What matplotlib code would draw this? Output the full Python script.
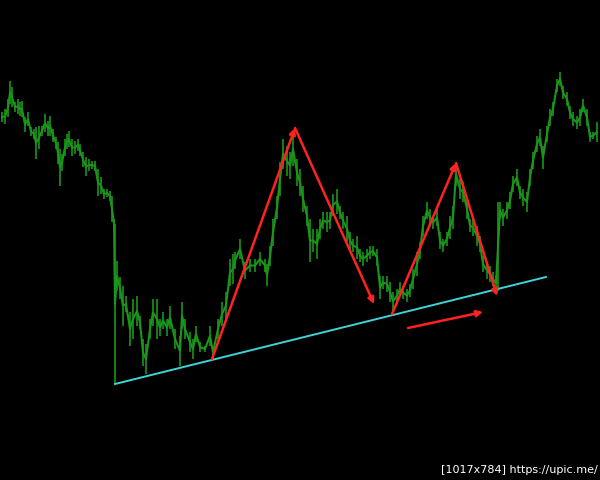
import matplotlib
matplotlib.use("Agg")
import matplotlib.pyplot as plt

# price bars (pixel coords, y grows downwards)
bar_x = [2, 5, 8, 10, 12, 15, 18, 20, 22, 25, 28, 31, 34, 36, 39, 42, 45, 48, 50, 53,
         56, 58, 60, 62, 65, 67, 69, 72, 75, 78, 80, 83, 86, 89, 92, 95, 98, 101, 104, 107,
         110, 112, 114, 115, 117, 120, 123, 126, 130, 133, 137, 140, 143, 146, 150, 153, 157, 160, 163, 167,
         170, 175, 180, 182, 185, 190, 193, 196, 200, 205, 210, 213, 218, 222, 226, 230, 233, 235, 240, 245,
         250, 255, 260, 265, 267, 270, 273, 277, 280, 283, 287, 290, 293, 297, 300, 303, 307, 310, 313, 317,
         320, 323, 327, 330, 333, 337, 340, 343, 347, 350, 353, 357, 360, 363, 367, 370, 373, 377, 380, 383,
         387, 390, 393, 397, 400, 403, 407, 410, 413, 417, 420, 423, 427, 430, 433, 437, 440, 443, 447, 450,
         453, 456, 460, 463, 467, 470, 473, 477, 480, 483, 487, 490, 493, 496, 498, 500, 503, 507, 510, 513,
         517, 520, 523, 527, 530, 533, 537, 540, 543, 547, 550, 553, 557, 560, 563, 567, 570, 573, 577, 580,
         583, 587, 590, 593, 597]
bar_top = [113, 110, 100, 82, 88, 103, 100, 103, 102, 118, 113, 128, 130, 128, 127, 127, 115, 122, 117, 130,
           138, 143, 150, 155, 140, 135, 132, 140, 142, 140, 145, 153, 158, 160, 162, 162, 170, 178, 190, 190,
           192, 197, 220, 225, 262, 278, 287, 297, 313, 300, 297, 317, 340, 345, 320, 300, 300, 320, 313, 320,
           307, 330, 337, 303, 320, 333, 340, 327, 343, 347, 327, 347, 320, 303, 293, 260, 255, 253, 240, 263,
           260, 260, 253, 260, 265, 247, 220, 197, 163, 140, 147, 153, 133, 160, 170, 187, 207, 220, 230, 230,
           220, 213, 213, 213, 195, 190, 207, 213, 217, 233, 240, 237, 250, 253, 250, 247, 247, 250, 277, 277,
           277, 283, 293, 290, 283, 287, 290, 285, 270, 253, 243, 217, 203, 210, 217, 210, 233, 240, 233, 217,
           207, 163, 180, 183, 200, 220, 220, 227, 237, 257, 263, 267, 273, 277, 203, 203, 210, 203, 193, 177,
           170, 187, 190, 193, 170, 153, 137, 130, 147, 127, 110, 103, 80, 73, 87, 93, 107, 113, 117, 110,
           100, 110, 133, 133, 123]
bar_bottom = [123, 125, 118, 105, 108, 113, 115, 117, 118, 133, 127, 137, 140, 160, 150, 137, 133, 137, 137, 143,
              150, 165, 187, 172, 157, 150, 148, 157, 155, 152, 157, 168, 177, 172, 170, 172, 197, 195, 200, 198,
              202, 223, 228, 385, 292, 300, 327, 313, 347, 340, 327, 330, 367, 375, 340, 327, 340, 337, 330, 337,
              330, 350, 367, 330, 340, 353, 360, 343, 353, 353, 347, 360, 340, 327, 320, 287, 285, 270, 260, 280,
              273, 273, 267, 273, 287, 267, 247, 220, 197, 170, 177, 180, 167, 187, 197, 213, 227, 263, 253, 260,
              240, 230, 233, 230, 217, 215, 220, 230, 243, 250, 253, 260, 263, 267, 263, 260, 257, 267, 300, 290,
              293, 303, 312, 303, 297, 300, 303, 298, 290, 277, 260, 237, 220, 227, 230, 227, 250, 253, 247, 240,
              230, 187, 200, 203, 220, 233, 237, 247, 253, 273, 280, 283, 287, 292, 292, 220, 227, 220, 210, 193,
              187, 200, 207, 213, 187, 170, 153, 147, 170, 143, 127, 117, 93, 87, 100, 107, 120, 127, 130, 127,
              113, 127, 143, 140, 143]

# support line and pattern swings
trend_x = [115, 546]
trend_y = [385, 278]
swing1 = [(212, 360), (295, 129), (374, 305)]
swing2 = [(392, 315), (456, 164), (497, 297)]
push = [(408, 329), (483, 313)]

fig = plt.figure(figsize=(6, 4.81), dpi=100, facecolor="black")
ax = fig.add_axes([0, 0, 1, 1])
ax.set_facecolor("black")
ax.set_xlim(0, 600)
ax.set_ylim(481, 0)
ax.axis("off")

green = "#1a961a"
ax.vlines(bar_x, bar_top, bar_bottom, color=green, lw=1.2)
mid = [(t + b) / 2 for t, b in zip(bar_top, bar_bottom)]
ax.plot(bar_x, mid, color=green, lw=1.5)

ax.plot(trend_x, trend_y, color="#3fd3d8", lw=1.4)

red = "#ff2222"
for pts in (swing1, swing2, push):
    for a, b in zip(pts[:-1], pts[1:]):
        ax.annotate("", xy=b, xytext=a,
                    arrowprops=dict(arrowstyle="-|>", color=red, lw=1.8,
                                    mutation_scale=9, shrinkA=0, shrinkB=0))

ax.text(598, 470, "[1017x784] https://upic.me/", color="white", fontsize=8,
        ha="right", va="center")

fig.savefig("out.png", dpi=100, facecolor="black")
